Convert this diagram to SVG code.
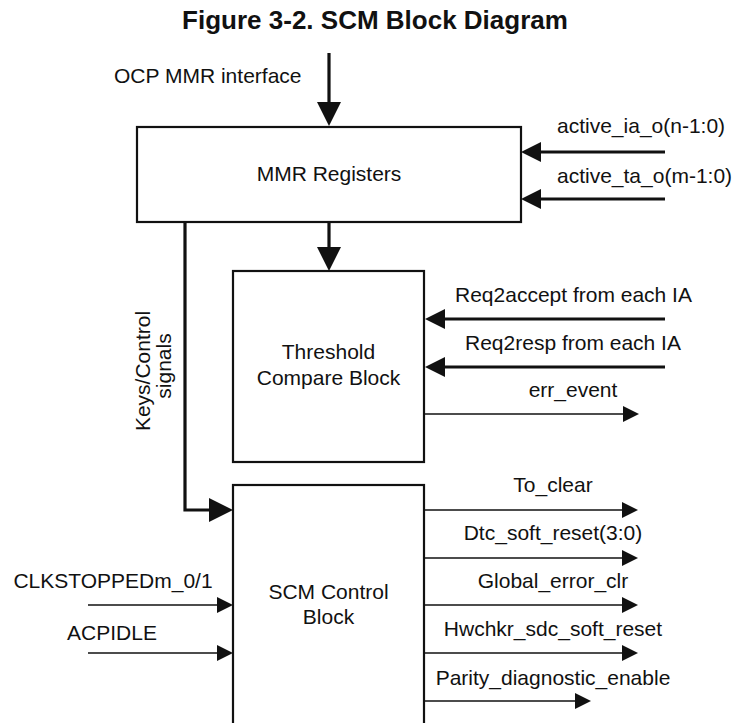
<svg xmlns="http://www.w3.org/2000/svg" width="735" height="723" viewBox="0 0 735 723">
<style>
text{font-family:"Liberation Sans",Arial,sans-serif;font-size:21px;fill:#111}
.title{font-weight:bold;font-size:26px;text-anchor:middle}
.mid{text-anchor:middle}
.box{fill:#fff;stroke:#111;stroke-width:2.2}
.thick{fill:none;stroke:#111;stroke-width:3.2}
.thin{fill:none;stroke:#111;stroke-width:1.6}
</style>
<defs>
<marker id="aL" markerUnits="userSpaceOnUse" viewBox="0 0 24 24" refX="0" refY="12" markerWidth="24" markerHeight="24" orient="auto"><path d="M0,0 L24,12 L0,24 z" fill="#111"/></marker>
<marker id="aM" markerUnits="userSpaceOnUse" viewBox="0 0 20 20" refX="0" refY="10" markerWidth="20" markerHeight="20" orient="auto"><path d="M0,0 L20,10 L0,20 z" fill="#111"/></marker>
<marker id="aS" markerUnits="userSpaceOnUse" viewBox="0 0 16 16" refX="0" refY="8" markerWidth="16" markerHeight="16" orient="auto"><path d="M0,0 L16,8 L0,16 z" fill="#111"/></marker>
</defs>
<rect width="735" height="723" fill="#fff"/>
<text class="title" x="375" y="29">Figure 3-2. SCM Block Diagram</text>

<g id="mmr">
<rect class="box" x="137" y="127" width="384" height="95"/>
<text class="mid" x="329" y="181">MMR Registers</text>
</g>
<g id="threshold">
<rect class="box" x="233" y="271" width="191" height="191"/>
<text class="mid" x="328.5" y="359">Threshold</text>
<text class="mid" x="328.5" y="385">Compare Block</text>
</g>
<g id="scm">
<rect class="box" x="233" y="485" width="191" height="260"/>
<text class="mid" x="328.5" y="599">SCM Control</text>
<text class="mid" x="328.5" y="624">Block</text>
</g>

<g id="connectors">
<path class="thick" d="M329,53 V102" marker-end="url(#aL)"/>
<path class="thick" d="M665,152 H541" marker-end="url(#aM)"/>
<path class="thick" d="M665,199 H541" marker-end="url(#aM)"/>
<path class="thick" d="M329,222 V247" marker-end="url(#aL)"/>
<path class="thick" d="M185,222 V510 H209" marker-end="url(#aL)"/>
<path class="thick" d="M665,319 H445" marker-end="url(#aM)"/>
<path class="thick" d="M665,367 H445" marker-end="url(#aM)"/>
<path class="thin" d="M424,414 H623" marker-end="url(#aS)"/>
<path class="thin" d="M424,510 H622" marker-end="url(#aS)"/>
<path class="thin" d="M424,558 H622" marker-end="url(#aS)"/>
<path class="thin" d="M424,605 H622" marker-end="url(#aS)"/>
<path class="thin" d="M424,653 H622" marker-end="url(#aS)"/>
<path class="thin" d="M424,701 H575" marker-end="url(#aS)"/>
<path class="thin" d="M88,605 H217" marker-end="url(#aS)"/>
<path class="thin" d="M88,653 H217" marker-end="url(#aS)"/>
</g>

<g id="labels">
<text x="114" y="83">OCP MMR interface</text>
<text x="557" y="133">active_ia_o(n-1:0)</text>
<text x="557" y="183">active_ta_o(m-1:0)</text>
<text x="455" y="302">Req2accept from each IA</text>
<text x="465" y="350">Req2resp from each IA</text>
<text class="mid" x="573" y="397">err_event</text>
<text class="mid" x="553" y="492">To_clear</text>
<text class="mid" x="553" y="540">Dtc_soft_reset(3:0)</text>
<text class="mid" x="553" y="588">Global_error_clr</text>
<text class="mid" x="553" y="636">Hwchkr_sdc_soft_reset</text>
<text class="mid" x="553" y="685">Parity_diagnostic_enable</text>
<text class="mid" x="113" y="588">CLKSTOPPEDm_0/1</text>
<text class="mid" x="112" y="640">ACPIDLE</text>
<text class="mid" transform="translate(150,371) rotate(-90)">Keys/Control</text>
<text class="mid" transform="translate(171,366) rotate(-90)">signals</text>
</g>
</svg>
